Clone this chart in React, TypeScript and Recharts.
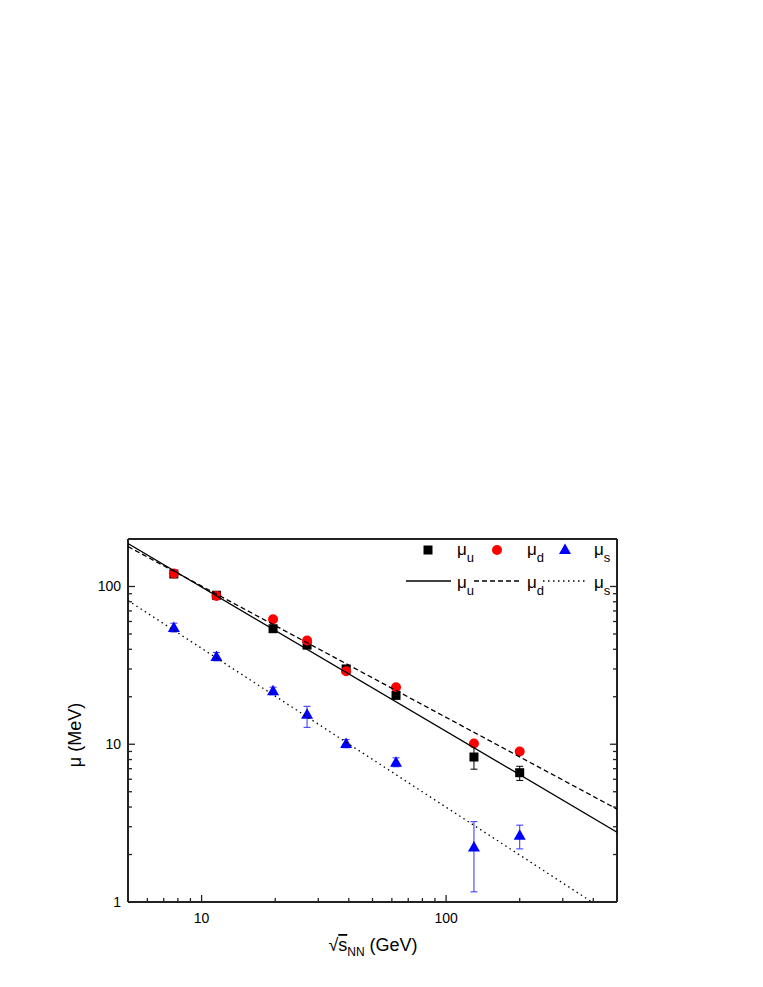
import { ComposedChart, Scatter, XAxis, YAxis, ErrorBar } from 'recharts'

// collision energies (GeV) and chemical potentials (MeV)
const energies = [7.7, 11.5, 19.6, 27, 39, 62.4, 130, 200]
const muU = [120, 88, 54, 42.5, 30, 20.4, 8.3, 6.6]
const muUErr = [[3, 3], [2, 2], [1.5, 1.5], [1.2, 1.2], [0.8, 0.8], [0.6, 0.6], [1.35, 1.7], [0.7, 0.65]]
const muD = [121, 87, 62, 45.5, 29, 23, 10.1, 9.0]
const muS = [55, 36, 21.8, 15.5, 10.1, 7.7, 2.23, 2.65]
const muSErr = [[3.5, 3.5], [2.2, 2.2], [1.2, 1.2], [2.7, 1.9], [0.6, 0.6], [0.5, 0.5], [1.07, 1.0], [0.48, 0.42]]

// power-law fits (end points)
const fitX = [5, 500]
const fitU = [187, 2.77]
const fitD = [179, 3.88]
const fitSX = [5, 395]
const fitS = [81.5, 1]

const xTicks = [6, 7, 8, 9, 10, 20, 30, 40, 50, 60, 70, 80, 90, 100, 200, 300, 400]
const yTicks = [1, 2, 3, 4, 5, 6, 7, 8, 9, 10, 20, 30, 40, 50, 60, 70, 80, 90, 100]

const FONT = '"Liberation Sans", Arial, sans-serif'
const AXIS = '#222'
const BLUE = '#0000ff'
const RED = '#ff0000'

const uData = energies.map((x, i) => ({ x, y: muU[i], err: muUErr[i] }))
const dData = energies.map((x, i) => ({ x, y: muD[i] }))
const sData = energies.map((x, i) => ({ x, y: muS[i], err: muSErr[i] }))
const fitUData = fitX.map((x, i) => ({ x, y: fitU[i] }))
const fitDData = fitX.map((x, i) => ({ x, y: fitD[i] }))
const fitSData = fitSX.map((x, i) => ({ x, y: fitS[i] }))

const isMajor = (v: number) => Math.abs(Math.log10(v) - Math.round(Math.log10(v))) < 1e-6
const tickLen = (v: number) => (isMajor(v) ? 7 : 4)

function BottomTick({ x, y, payload }: any) {
  const v = payload.value
  return (
    <g>
      <line x1={x} x2={x} y1={y} y2={y - tickLen(v)} stroke={AXIS} strokeWidth={1.3} />
      {isMajor(v) && (
        <text x={x} y={y + 16} textAnchor="middle" dominantBaseline="central" fontSize={14} fontFamily={FONT} fill="#000">
          {v}
        </text>
      )}
    </g>
  )
}

function TopTick({ x, y, payload }: any) {
  return <line x1={x} x2={x} y1={y} y2={y + tickLen(payload.value)} stroke={AXIS} strokeWidth={1.3} />
}

function LeftTick({ x, y, payload }: any) {
  const v = payload.value
  return (
    <g>
      <line x1={x} x2={x + tickLen(v)} y1={y} y2={y} stroke={AXIS} strokeWidth={1.3} />
      {isMajor(v) && (
        <text x={x - 7} y={y} textAnchor="end" dominantBaseline="central" fontSize={14} fontFamily={FONT} fill="#000">
          {v}
        </text>
      )}
    </g>
  )
}

function RightTick({ x, y, payload }: any) {
  return <line x1={x} x2={x - tickLen(payload.value)} y1={y} y2={y} stroke={AXIS} strokeWidth={1.3} />
}

const Square = ({ cx, cy }: any) => <rect x={cx - 4.5} y={cy - 4.5} width={9} height={9} fill="#000" />
const Dot = ({ cx, cy }: any) => <circle cx={cx} cy={cy} r={5} fill={RED} />
const Tri = ({ cx, cy }: any) => (
  <path d={`M${cx},${cy - 6} L${cx + 6},${cy + 4.5} L${cx - 6},${cy + 4.5} Z`} fill={BLUE} />
)
const NoShape = () => <g />

function Mu({ x, y, sub }: { x: number; y: number; sub: string }) {
  return (
    <text x={x} y={y} fontSize={17} fontFamily={FONT} fill="#000">
      μ
      <tspan dy={7} fontSize={13}>{sub}</tspan>
    </text>
  )
}

function Overlay() {
  // page coordinates minus the 8px body margin
  const o = 8
  return (
    <svg
      width={755}
      height={970}
      style={{ position: 'absolute', left: 0, top: 0, pointerEvents: 'none' }}
    >
      {/* legend row 1: symbols */}
      <rect x={423.5 - o} y={545.5 - o} width={9} height={9} fill="#000" />
      <Mu x={457 - o} y={555 - o} sub="u" />
      <circle cx={497 - o} cy={550 - o} r={5} fill={RED} />
      <Mu x={527 - o} y={555 - o} sub="d" />
      <path d={`M${565 - o},${543.5 - o} L${571 - o},${554 - o} L${559 - o},${554 - o} Z`} fill={BLUE} />
      <Mu x={594 - o} y={555 - o} sub="s" />
      {/* legend row 2: fit lines */}
      <line x1={406 - o} x2={451 - o} y1={581 - o} y2={581 - o} stroke="#000" strokeWidth={1.3} />
      <Mu x={457 - o} y={588 - o} sub="u" />
      <line x1={474 - o} x2={521 - o} y1={581 - o} y2={581 - o} stroke="#000" strokeWidth={1.3} strokeDasharray="5 3" />
      <Mu x={527 - o} y={588 - o} sub="d" />
      <line x1={543 - o} x2={588 - o} y1={581 - o} y2={581 - o} stroke="#000" strokeWidth={1.3} strokeDasharray="1.5 3.5" />
      <Mu x={594 - o} y={588 - o} sub="s" />
      {/* axis titles */}
      <text
        x={75 - o}
        y={735 - o}
        transform={`rotate(-90 ${75 - o} ${735 - o})`}
        textAnchor="middle"
        dominantBaseline="central"
        fontSize={18}
        fontFamily={FONT}
        fill="#000"
      >
        μ (MeV)
      </text>
      <text x={373 - o} y={951 - o} textAnchor="middle" fontSize={18} fontFamily={FONT} fill="#000">
        √<tspan style={{ textDecoration: 'overline' }}>s</tspan>
        <tspan dy={5} fontSize={12}>NN</tspan>
        <tspan dy={-5}> (GeV)</tspan>
      </text>
    </svg>
  )
}

export default function App() {
  return (
    <div style={{ position: 'relative', width: 755, height: 970 }}>
      <ComposedChart
        width={755}
        height={970}
        margin={{ top: 521, right: 136, bottom: 36, left: 60 }}
      >
        <XAxis
          xAxisId="b"
          dataKey="x"
          type="number"
          scale="log"
          domain={[5, 500]}
          allowDataOverflow
          ticks={xTicks}
          interval={0}
          height={40}
          tickSize={0}
          tickMargin={0}
          tick={<BottomTick />}
          axisLine={{ stroke: AXIS, strokeWidth: 2 }}
        />
        <XAxis
          xAxisId="t"
          orientation="top"
          type="number"
          scale="log"
          domain={[5, 500]}
          allowDataOverflow
          ticks={xTicks}
          interval={0}
          height={10}
          tickSize={0}
          tickMargin={0}
          tick={<TopTick />}
          axisLine={{ stroke: AXIS, strokeWidth: 2 }}
        />
        <YAxis
          yAxisId="l"
          dataKey="y"
          type="number"
          scale="log"
          domain={[1, 200]}
          allowDataOverflow
          ticks={yTicks}
          interval={0}
          width={60}
          tickSize={0}
          tickMargin={0}
          tick={<LeftTick />}
          axisLine={{ stroke: AXIS, strokeWidth: 2 }}
        />
        <YAxis
          yAxisId="r"
          orientation="right"
          type="number"
          scale="log"
          domain={[1, 200]}
          allowDataOverflow
          ticks={yTicks}
          interval={0}
          width={10}
          tickSize={0}
          tickMargin={0}
          tick={<RightTick />}
          axisLine={{ stroke: AXIS, strokeWidth: 2 }}
        />
        <Scatter xAxisId="b" yAxisId="l" data={uData} dataKey="y" shape={Square} fill="#000" isAnimationActive={false}>
          <ErrorBar dataKey="err" direction="y" width={3.5} stroke="#000" strokeWidth={1} isAnimationActive={false} />
        </Scatter>
        <Scatter xAxisId="b" yAxisId="l" data={dData} dataKey="y" shape={Dot} fill={RED} isAnimationActive={false} />
        <Scatter xAxisId="b" yAxisId="l" data={sData} dataKey="y" shape={Tri} fill={BLUE} isAnimationActive={false}>
          <ErrorBar dataKey="err" direction="y" width={3.5} stroke="#3030ff" strokeWidth={1} isAnimationActive={false} />
        </Scatter>
        <Scatter
          xAxisId="b"
          yAxisId="l"
          data={fitUData}
          dataKey="y"
          shape={NoShape}
          fill="#000"
          line={{ stroke: '#000', strokeWidth: 1.3 }}
          isAnimationActive={false}
        />
        <Scatter
          xAxisId="b"
          yAxisId="l"
          data={fitDData}
          dataKey="y"
          shape={NoShape}
          fill="#000"
          line={{ stroke: '#000', strokeWidth: 1.3, strokeDasharray: '5 3' }}
          isAnimationActive={false}
        />
        <Scatter
          xAxisId="b"
          yAxisId="l"
          data={fitSData}
          dataKey="y"
          shape={NoShape}
          fill="#000"
          line={{ stroke: '#000', strokeWidth: 1.3, strokeDasharray: '1.5 3.5' }}
          isAnimationActive={false}
        />
      </ComposedChart>
      <Overlay />
    </div>
  )
}
